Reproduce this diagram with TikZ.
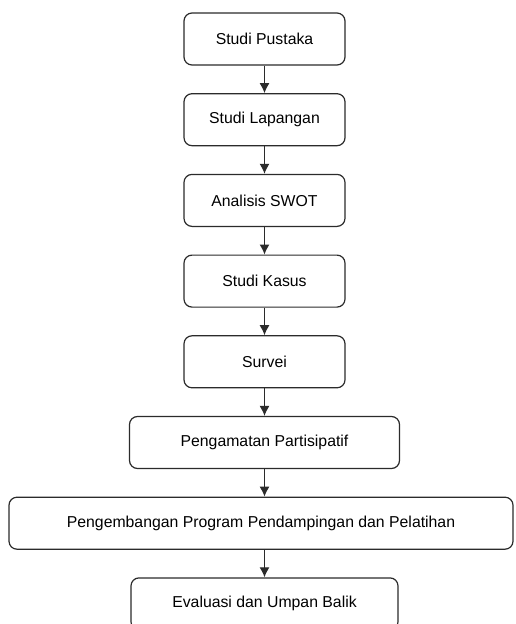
\documentclass[tikz,border=0pt]{standalone}
\usepackage{fontspec}
\setmainfont{Liberation Sans}
\usetikzlibrary{arrows.meta, positioning}
\definecolor{flowline}{HTML}{2B2B2B}
\tikzset{
  stepbox/.style={rectangle, rounded corners=8pt, draw=flowline, line width=1.2pt,
    minimum height=52pt, inner sep=0pt, align=center, fill=white,
    font=\fontsize{15.8}{19}\selectfont},
  arr/.style={-{Latex[length=10pt, width=10pt]}, line width=1.2pt, flowline},
}

\begin{document}
\begin{tikzpicture}[node distance=27.5pt, x=1pt, y=1pt]
    \useasboundingbox (0,0) rectangle (515,-624);
    \node[stepbox, minimum width=161pt] (pustaka) at (264.5,-39) {Studi Pustaka};
    \node[stepbox, minimum width=161pt, below=of pustaka] (lapangan) {Studi Lapangan};
    \node[stepbox, minimum width=161pt, below=of lapangan] (swot) {Analisis SWOT};
    \node[stepbox, minimum width=161pt, below=of swot] (kasus) {Studi Kasus};
    \node[stepbox, minimum width=161pt, below=of kasus] (survei) {Survei};
    \node[stepbox, minimum width=270pt, below=of survei] (amat) {Pengamatan Partisipatif};
    \node[stepbox, minimum width=504pt, below=of amat, xshift=-3.5pt] (program) {Pengembangan Program Pendampingan dan Pelatihan};
    \node[stepbox, minimum width=267pt, below=of program, xshift=3.5pt] (evaluasi) {Evaluasi dan Umpan Balik};

    \draw[arr] (pustaka) -- (lapangan);
    \draw[arr] (lapangan) -- (swot);
    \draw[arr] (swot) -- (kasus);
    \draw[arr] (kasus) -- (survei);
    \draw[arr] (survei) -- (amat);
    \draw[arr] (amat) -- (amat |- program.north);
    \draw[arr] (evaluasi |- program.south) -- (evaluasi);
  \end{tikzpicture}
\end{document}
